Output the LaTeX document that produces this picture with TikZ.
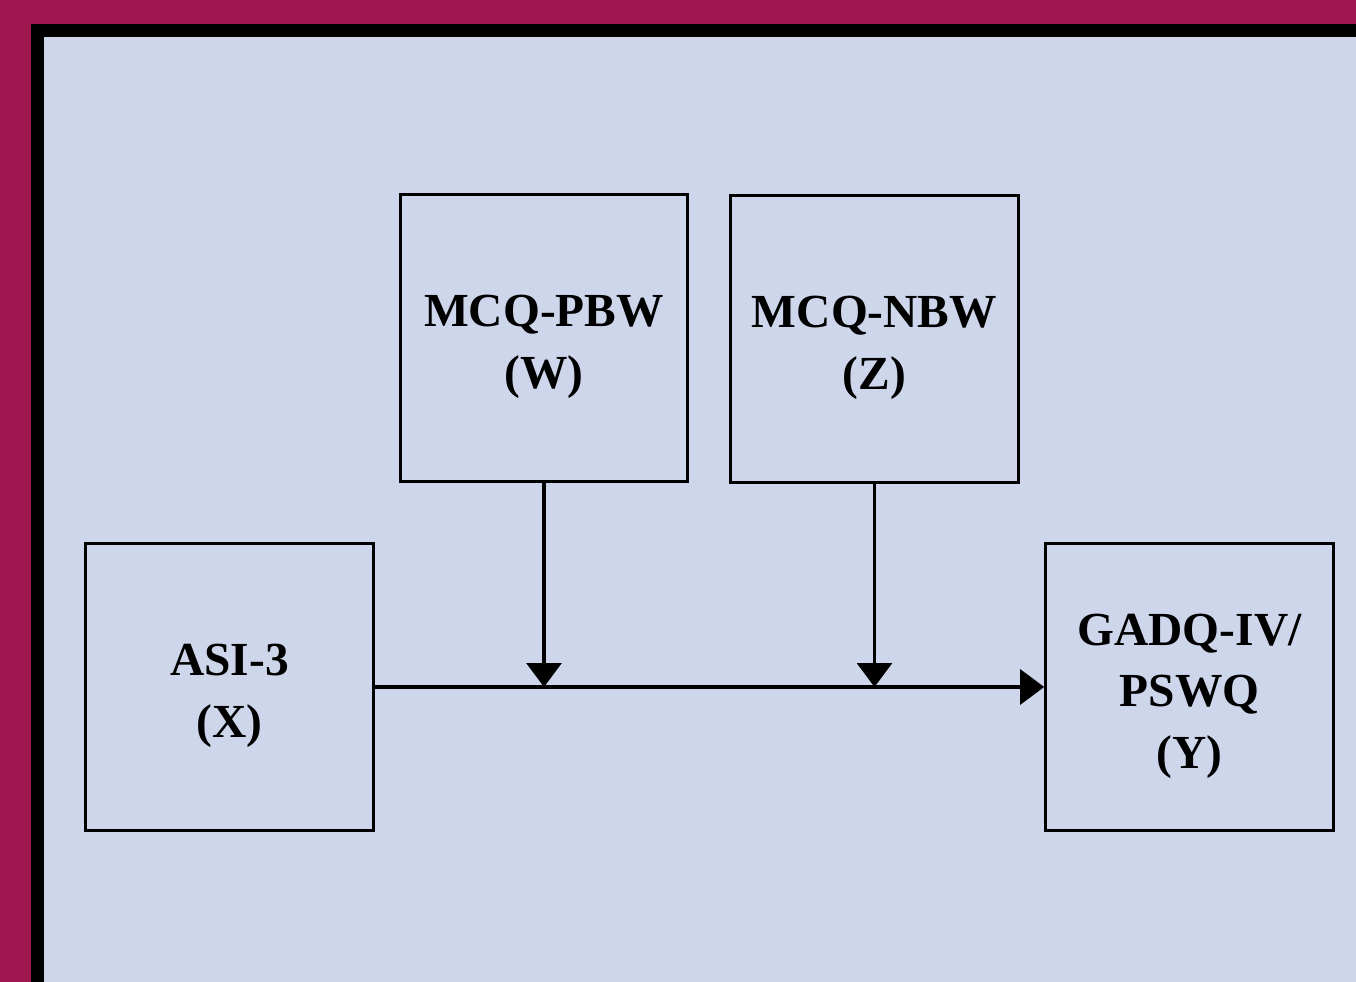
\documentclass[tikz,border=0pt]{standalone}
\usepackage{fontspec}
\setmainfont{Liberation Serif}
\usetikzlibrary{arrows.meta}

\definecolor{frameRed}{HTML}{A01850}
\definecolor{paneBlue}{HTML}{CED6EB}

\tikzset{
    varbox/.style = {draw, line width = 1.8pt, minimum width = 5.75cm, minimum height = 5.75cm,
        inner sep = 0pt},
    tag/.style = {align = center, yshift = -0.18cm, font = \fontsize{27}{35}\selectfont\bfseries},
    link/.style = {line width = 1.8pt, -{Triangle[width = 0.7cm, length = 0.48cm]}}
}

\begin{document}
\begin{tikzpicture}[x = 0.02cm, y = -0.02cm]
    % frame and background
    \fill[frameRed] (0,0) rectangle (1356,982);
    \fill[black] (31,24) rectangle (1356,982);
    \fill[paneBlue] (44,37) rectangle (1356,982);
    \useasboundingbox (0,0) rectangle (1356,982);

    \node[varbox, label = {[tag]center:MCQ-PBW\\(W)}] (pbw) at (544,338) {};
    \node[varbox, label = {[tag]center:MCQ-NBW\\(Z)}] (nbw) at (874.5,339) {};
    \node[varbox, label = {[tag]center:ASI-3\\(X)}] (asi) at (229.5,687) {};
    \node[varbox, label = {[tag]center:GADQ-IV/\\PSWQ\\(Y)}] (gad) at (1189.5,687) {};

    \draw[link] (asi.east) -- (gad.west);
    \draw[link] (pbw.south) -- (pbw.south |- asi.east);
    \draw[link] (nbw.south) -- (nbw.south |- asi.east);
\end{tikzpicture}
\end{document}
